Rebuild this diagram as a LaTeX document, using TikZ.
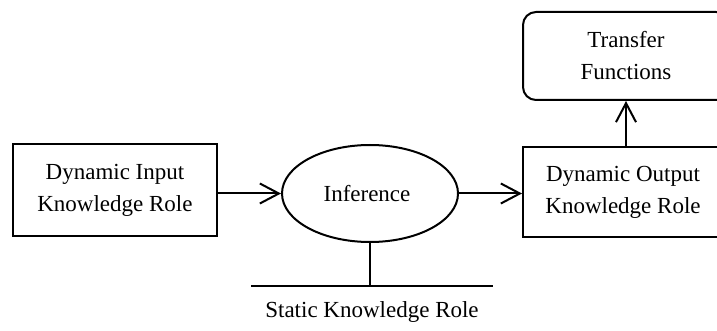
\documentclass[tikz,border=0pt]{standalone}
\usepackage{fontspec}
\setmainfont{Liberation Serif}
\usetikzlibrary{arrows.meta,shapes.geometric}
\begin{document}
\begin{tikzpicture}[x=1pt,y=-1pt,
  every node/.style={font=\fontsize{23}{32}\selectfont, align=center, inner sep=0pt},
  role/.style={draw, line width=2pt, rectangle},
  infer/.style={draw, line width=2pt, ellipse},
  func/.style={draw, line width=2pt, rectangle, rounded corners=13pt},
  link/.style={line width=2pt},
  flow/.style={line width=2pt, -{Straight Barb[length=19pt,width=20pt,line width=2pt]}}]
  \useasboundingbox (0,0) rectangle (717,331);
  \clip (0,0) rectangle (717,331);

  % knowledge roles, inference and transfer functions
  \node[role, minimum width=204pt, minimum height=92pt] (din) at (115,190)
    {Dynamic Input\\Knowledge Role};
  \node[infer, minimum width=176pt, minimum height=97pt] (inf) at (370,193.5)
    {\hspace*{-6pt}Inference};
  \node[role, minimum width=206pt, minimum height=90pt] (dout) at (626,192)
    {\hspace*{-6pt}Dynamic Output\\\hspace*{-6pt}Knowledge Role};
  \node[func, minimum width=206pt, minimum height=88pt] (tf) at (626,56)
    {Transfer\\Functions};

  % static knowledge role: a base line under the inference
  \coordinate (skL) at (251,286);
  \coordinate (skR) at (493,286);
  \coordinate (skM) at (inf.south |- skL);
  \node (sklabel) at (372,312) {Static Knowledge Role};

  % connectors
  \draw[flow] (din.east |- inf.west) -- (inf.west);
  \draw[flow] (inf.east) -- (inf.east -| dout.west);
  \draw[flow] (dout.north) -- (tf.south);
  \draw[link] (inf.south) -- (skM);
  \draw[link] (skL) -- (skR);
\end{tikzpicture}
\end{document}
